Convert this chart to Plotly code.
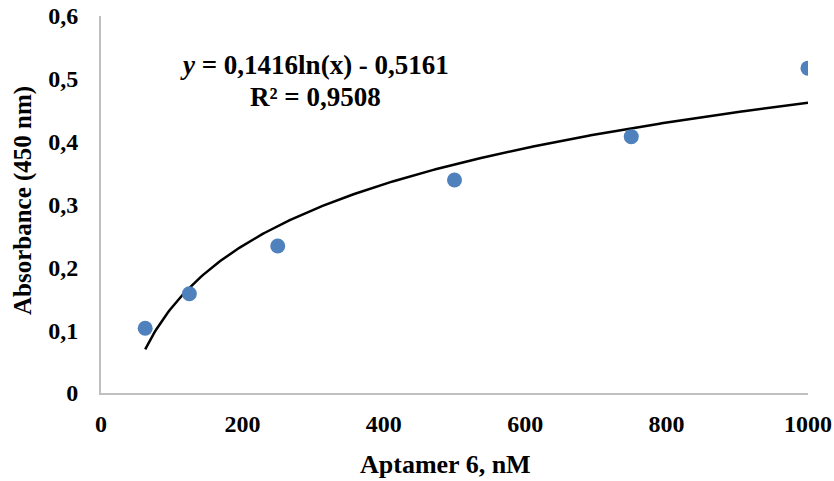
import numpy as np
import plotly.graph_objects as go

# Data
aptamer_nM = [62.5, 125, 250, 500, 750, 1000]
absorbance = [0.103, 0.158, 0.234, 0.339, 0.408, 0.517]

# Logarithmic trendline coefficients shown on chart
coef_a = 0.1416
coef_b = -0.5161
r_squared = 0.9508

x_tick_vals = [0, 200, 400, 600, 800, 1000]
x_tick_text = ["0", "200", "400", "600", "800", "1000"]
y_tick_vals = [0, 0.1, 0.2, 0.3, 0.4, 0.5, 0.6]
y_tick_text = ["0", "0,1", "0,2", "0,3", "0,4", "0,5", "0,6"]

font_family = "Liberation Serif, Times New Roman, serif"
FS = 24
TFS = 27

xs = np.linspace(min(aptamer_nM), max(aptamer_nM), 300)
ys = coef_a * np.log(xs) + coef_b

L, R, T, B = 101, 26, 16, 88
W, H = 834, 481
pw, ph = W - L - R, H - T - B

def px_x(p):
    return (p - L) / pw

def px_y(p):
    return (H - B - p) / ph

fig = go.Figure()
fig.add_trace(go.Scatter(x=xs, y=ys, mode="lines",
                         line=dict(color="#000000", width=2.5),
                         hoverinfo="skip", showlegend=False))
fig.add_trace(go.Scatter(x=aptamer_nM, y=absorbance, mode="markers",
                         marker=dict(color="#4f81bd", size=15),
                         showlegend=False))

eq_text = "<b><i>y</i> = 0,1416ln(x) - 0,5161</b>"
r2_text = "<b>R² = 0,9508</b>"
fig.add_annotation(x=px_x(314), y=px_y(65), xref="paper", yref="paper",
                   text=eq_text, showarrow=False, xanchor="center", yanchor="middle",
                   font=dict(family=font_family, size=TFS, color="#000"))
fig.add_annotation(x=px_x(315), y=px_y(97), xref="paper", yref="paper",
                   text=r2_text, showarrow=False, xanchor="center", yanchor="middle",
                   font=dict(family=font_family, size=TFS, color="#000"))
fig.add_annotation(x=px_x(445), y=px_y(464), xref="paper", yref="paper",
                   text="<b>Aptamer 6, nM</b>", showarrow=False,
                   xanchor="center", yanchor="middle",
                   font=dict(family=font_family, size=26, color="#000"))
fig.add_annotation(x=px_x(23), y=px_y(201), xref="paper", yref="paper",
                   text="<b>Absorbance (450 nm)</b>", showarrow=False,
                   textangle=-90, xanchor="center", yanchor="middle",
                   font=dict(family=font_family, size=25, color="#000"))

tickfont = dict(family=font_family, size=FS, color="#000", weight="bold")

fig.update_layout(
    width=W, height=H,
    margin=dict(l=L, r=R, t=T, b=B),
    paper_bgcolor="white", plot_bgcolor="white",
    font=dict(family=font_family, size=FS, color="#000"),
    xaxis=dict(range=[0, 1000], tickvals=x_tick_vals, ticktext=x_tick_text,
               showgrid=False, zeroline=False, showline=True,
               linecolor="#bfbfbf", linewidth=2, ticks="",
               tickfont=tickfont, ticklabelstandoff=8, automargin=False),
    yaxis=dict(range=[0, 0.6], tickvals=y_tick_vals, ticktext=y_tick_text,
               showgrid=False, zeroline=False, showline=True,
               linecolor="#bfbfbf", linewidth=2, ticks="",
               tickfont=tickfont, ticklabelstandoff=16, automargin=False),
)

fig.write_html("out.html", config={"displayModeBar": False},
               post_script="document.body.style.margin='0';document.body.style.overflow='hidden';")
